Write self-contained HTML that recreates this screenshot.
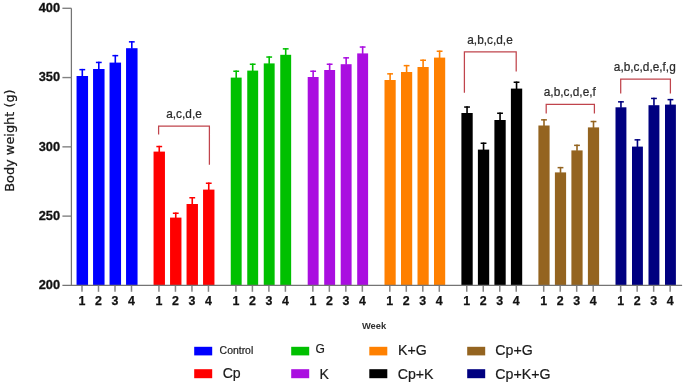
<!DOCTYPE html>
<html lang="en"><head><meta charset="utf-8"><title>Body weight chart</title>
<style>html,body{margin:0;padding:0;background:#fff;}body{width:685px;height:385px;overflow:hidden;}svg{display:block;}text{font-family:"Liberation Sans",Arial,sans-serif;}</style>
</head><body>
<svg width="685" height="385" viewBox="0 0 685 385">
<rect width="685" height="385" fill="#ffffff"/>
<g fill="#0000ff">
<rect x="76.55" y="76.00" width="11.5" height="209.40"/>
<rect x="81.50" y="68.90" width="1.6" height="7.60"/>
<rect x="79.40" y="68.90" width="5.8" height="1.5"/>
<rect x="93.05" y="69.00" width="11.5" height="216.40"/>
<rect x="98.00" y="61.70" width="1.6" height="7.80"/>
<rect x="95.90" y="61.70" width="5.8" height="1.5"/>
<rect x="109.55" y="62.60" width="11.5" height="222.80"/>
<rect x="114.50" y="54.90" width="1.6" height="8.20"/>
<rect x="112.40" y="54.90" width="5.8" height="1.5"/>
<rect x="126.05" y="48.20" width="11.5" height="237.20"/>
<rect x="131.00" y="41.10" width="1.6" height="7.60"/>
<rect x="128.90" y="41.10" width="5.8" height="1.5"/>
</g>
<g fill="#ff0000">
<rect x="153.55" y="151.60" width="11.4" height="133.80"/>
<rect x="158.45" y="145.80" width="1.6" height="6.30"/>
<rect x="156.35" y="145.80" width="5.8" height="1.5"/>
<rect x="170.05" y="217.60" width="11.4" height="67.80"/>
<rect x="174.95" y="212.50" width="1.6" height="5.60"/>
<rect x="172.85" y="212.50" width="5.8" height="1.5"/>
<rect x="186.55" y="204.00" width="11.4" height="81.40"/>
<rect x="191.45" y="197.00" width="1.6" height="7.50"/>
<rect x="189.35" y="197.00" width="5.8" height="1.5"/>
<rect x="203.05" y="189.60" width="11.4" height="95.80"/>
<rect x="207.95" y="182.50" width="1.6" height="7.60"/>
<rect x="205.85" y="182.50" width="5.8" height="1.5"/>
</g>
<g fill="#00c000">
<rect x="230.75" y="77.60" width="10.9" height="207.80"/>
<rect x="235.40" y="70.50" width="1.6" height="7.60"/>
<rect x="233.30" y="70.50" width="5.8" height="1.5"/>
<rect x="247.25" y="70.60" width="10.9" height="214.80"/>
<rect x="251.90" y="63.50" width="1.6" height="7.60"/>
<rect x="249.80" y="63.50" width="5.8" height="1.5"/>
<rect x="263.75" y="63.40" width="10.9" height="222.00"/>
<rect x="268.40" y="56.30" width="1.6" height="7.60"/>
<rect x="266.30" y="56.30" width="5.8" height="1.5"/>
<rect x="280.25" y="54.80" width="10.9" height="230.60"/>
<rect x="284.90" y="48.10" width="1.6" height="7.20"/>
<rect x="282.80" y="48.10" width="5.8" height="1.5"/>
</g>
<g fill="#aa0ee0">
<rect x="307.70" y="77.00" width="10.9" height="208.40"/>
<rect x="312.35" y="70.50" width="1.6" height="7.00"/>
<rect x="310.25" y="70.50" width="5.8" height="1.5"/>
<rect x="324.20" y="70.00" width="10.9" height="215.40"/>
<rect x="328.85" y="63.50" width="1.6" height="7.00"/>
<rect x="326.75" y="63.50" width="5.8" height="1.5"/>
<rect x="340.70" y="64.20" width="10.9" height="221.20"/>
<rect x="345.35" y="57.10" width="1.6" height="7.60"/>
<rect x="343.25" y="57.10" width="5.8" height="1.5"/>
<rect x="357.20" y="53.40" width="10.9" height="232.00"/>
<rect x="361.85" y="46.30" width="1.6" height="7.60"/>
<rect x="359.75" y="46.30" width="5.8" height="1.5"/>
</g>
<g fill="#ff8000">
<rect x="384.50" y="80.00" width="11.2" height="205.40"/>
<rect x="389.30" y="73.10" width="1.6" height="7.40"/>
<rect x="387.20" y="73.10" width="5.8" height="1.5"/>
<rect x="401.00" y="72.00" width="11.2" height="213.40"/>
<rect x="405.80" y="64.90" width="1.6" height="7.60"/>
<rect x="403.70" y="64.90" width="5.8" height="1.5"/>
<rect x="417.50" y="67.00" width="11.2" height="218.40"/>
<rect x="422.30" y="59.50" width="1.6" height="8.00"/>
<rect x="420.20" y="59.50" width="5.8" height="1.5"/>
<rect x="434.00" y="57.60" width="11.2" height="227.80"/>
<rect x="438.80" y="50.50" width="1.6" height="7.60"/>
<rect x="436.70" y="50.50" width="5.8" height="1.5"/>
</g>
<g fill="#000000">
<rect x="461.40" y="113.00" width="11.3" height="172.40"/>
<rect x="466.25" y="106.30" width="1.6" height="7.20"/>
<rect x="464.15" y="106.30" width="5.8" height="1.5"/>
<rect x="477.90" y="149.60" width="11.3" height="135.80"/>
<rect x="482.75" y="142.50" width="1.6" height="7.60"/>
<rect x="480.65" y="142.50" width="5.8" height="1.5"/>
<rect x="494.40" y="120.00" width="11.3" height="165.40"/>
<rect x="499.25" y="112.50" width="1.6" height="8.00"/>
<rect x="497.15" y="112.50" width="5.8" height="1.5"/>
<rect x="510.90" y="88.60" width="11.3" height="196.80"/>
<rect x="515.75" y="81.50" width="1.6" height="7.60"/>
<rect x="513.65" y="81.50" width="5.8" height="1.5"/>
</g>
<g fill="#946420">
<rect x="538.40" y="125.50" width="11.2" height="159.90"/>
<rect x="543.20" y="119.10" width="1.6" height="6.90"/>
<rect x="541.10" y="119.10" width="5.8" height="1.5"/>
<rect x="554.90" y="172.40" width="11.2" height="113.00"/>
<rect x="559.70" y="166.90" width="1.6" height="6.00"/>
<rect x="557.60" y="166.90" width="5.8" height="1.5"/>
<rect x="571.40" y="150.40" width="11.2" height="135.00"/>
<rect x="576.20" y="144.60" width="1.6" height="6.30"/>
<rect x="574.10" y="144.60" width="5.8" height="1.5"/>
<rect x="587.90" y="127.40" width="11.2" height="158.00"/>
<rect x="592.70" y="120.80" width="1.6" height="7.10"/>
<rect x="590.60" y="120.80" width="5.8" height="1.5"/>
</g>
<g fill="#000080">
<rect x="615.50" y="107.30" width="10.9" height="178.10"/>
<rect x="620.15" y="101.10" width="1.6" height="6.70"/>
<rect x="618.05" y="101.10" width="5.8" height="1.5"/>
<rect x="632.00" y="146.60" width="10.9" height="138.80"/>
<rect x="636.65" y="139.10" width="1.6" height="8.00"/>
<rect x="634.55" y="139.10" width="5.8" height="1.5"/>
<rect x="648.50" y="105.20" width="10.9" height="180.20"/>
<rect x="653.15" y="97.70" width="1.6" height="8.00"/>
<rect x="651.05" y="97.70" width="5.8" height="1.5"/>
<rect x="665.00" y="104.60" width="10.9" height="180.80"/>
<rect x="669.65" y="98.90" width="1.6" height="6.20"/>
<rect x="667.55" y="98.90" width="5.8" height="1.5"/>
</g>
<g stroke="#747474" stroke-width="1.25" fill="none">
<line x1="71.4" y1="8.3" x2="71.4" y2="285.4"/>
<line x1="62.4" y1="285.4" x2="682.1" y2="285.4"/>
</g>
<g stroke="#828282" stroke-width="1.4" fill="none">
<line x1="62.4" y1="8.30" x2="71.4" y2="8.30"/>
<line x1="62.4" y1="77.57" x2="71.4" y2="77.57"/>
<line x1="62.4" y1="146.85" x2="71.4" y2="146.85"/>
<line x1="62.4" y1="216.12" x2="71.4" y2="216.12"/>
</g>
<g stroke="#858585" stroke-width="1.5" fill="none">
<line x1="82.00" y1="285.9" x2="82.00" y2="291.8"/>
<line x1="98.50" y1="285.9" x2="98.50" y2="291.8"/>
<line x1="115.00" y1="285.9" x2="115.00" y2="291.8"/>
<line x1="131.50" y1="285.9" x2="131.50" y2="291.8"/>
<line x1="158.95" y1="285.9" x2="158.95" y2="291.8"/>
<line x1="175.45" y1="285.9" x2="175.45" y2="291.8"/>
<line x1="191.95" y1="285.9" x2="191.95" y2="291.8"/>
<line x1="208.45" y1="285.9" x2="208.45" y2="291.8"/>
<line x1="235.90" y1="285.9" x2="235.90" y2="291.8"/>
<line x1="252.40" y1="285.9" x2="252.40" y2="291.8"/>
<line x1="268.90" y1="285.9" x2="268.90" y2="291.8"/>
<line x1="285.40" y1="285.9" x2="285.40" y2="291.8"/>
<line x1="312.85" y1="285.9" x2="312.85" y2="291.8"/>
<line x1="329.35" y1="285.9" x2="329.35" y2="291.8"/>
<line x1="345.85" y1="285.9" x2="345.85" y2="291.8"/>
<line x1="362.35" y1="285.9" x2="362.35" y2="291.8"/>
<line x1="389.80" y1="285.9" x2="389.80" y2="291.8"/>
<line x1="406.30" y1="285.9" x2="406.30" y2="291.8"/>
<line x1="422.80" y1="285.9" x2="422.80" y2="291.8"/>
<line x1="439.30" y1="285.9" x2="439.30" y2="291.8"/>
<line x1="466.75" y1="285.9" x2="466.75" y2="291.8"/>
<line x1="483.25" y1="285.9" x2="483.25" y2="291.8"/>
<line x1="499.75" y1="285.9" x2="499.75" y2="291.8"/>
<line x1="516.25" y1="285.9" x2="516.25" y2="291.8"/>
<line x1="543.70" y1="285.9" x2="543.70" y2="291.8"/>
<line x1="560.20" y1="285.9" x2="560.20" y2="291.8"/>
<line x1="576.70" y1="285.9" x2="576.70" y2="291.8"/>
<line x1="593.20" y1="285.9" x2="593.20" y2="291.8"/>
<line x1="620.65" y1="285.9" x2="620.65" y2="291.8"/>
<line x1="637.15" y1="285.9" x2="637.15" y2="291.8"/>
<line x1="653.65" y1="285.9" x2="653.65" y2="291.8"/>
<line x1="670.15" y1="285.9" x2="670.15" y2="291.8"/>
</g>
<g font-size="12.8" font-weight="bold" fill="#111111" stroke="#111111" stroke-width="0.3" text-anchor="end">
<text x="60.1" y="12.20">400</text>
<text x="60.1" y="81.47">350</text>
<text x="60.1" y="150.75">300</text>
<text x="60.1" y="220.03">250</text>
<text x="60.1" y="289.30">200</text>
</g>
<g font-size="12.4" font-weight="bold" fill="#111111" stroke="#111111" stroke-width="0.25" text-anchor="middle">
<text x="82.00" y="305.0">1</text>
<text x="98.50" y="305.0">2</text>
<text x="115.00" y="305.0">3</text>
<text x="131.50" y="305.0">4</text>
<text x="158.95" y="305.0">1</text>
<text x="175.45" y="305.0">2</text>
<text x="191.95" y="305.0">3</text>
<text x="208.45" y="305.0">4</text>
<text x="235.90" y="305.0">1</text>
<text x="252.40" y="305.0">2</text>
<text x="268.90" y="305.0">3</text>
<text x="285.40" y="305.0">4</text>
<text x="312.85" y="305.0">1</text>
<text x="329.35" y="305.0">2</text>
<text x="345.85" y="305.0">3</text>
<text x="362.35" y="305.0">4</text>
<text x="389.80" y="305.0">1</text>
<text x="406.30" y="305.0">2</text>
<text x="422.80" y="305.0">3</text>
<text x="439.30" y="305.0">4</text>
<text x="466.75" y="305.0">1</text>
<text x="483.25" y="305.0">2</text>
<text x="499.75" y="305.0">3</text>
<text x="516.25" y="305.0">4</text>
<text x="543.70" y="305.0">1</text>
<text x="560.20" y="305.0">2</text>
<text x="576.70" y="305.0">3</text>
<text x="593.20" y="305.0">4</text>
<text x="620.65" y="305.0">1</text>
<text x="637.15" y="305.0">2</text>
<text x="653.65" y="305.0">3</text>
<text x="670.15" y="305.0">4</text>
</g>
<g stroke="#c0444c" stroke-width="1.25" fill="none">
<polyline points="158.6,134.5 158.6,126 209.4,126 209.4,164.7"/>
<polyline points="464.4,92.7 464.4,51.8 516.2,51.8 516.2,71.5"/>
<polyline points="546.2,113.6 546.2,104.4 594.4,104.4 594.4,113.6"/>
<polyline points="620.7,93.5 620.7,79 670.4,79 670.4,93.5"/>
</g>
<g font-size="11.85" fill="#2b2b2b" stroke="#2b2b2b" stroke-width="0.22" text-anchor="middle">
<text x="184" y="118">a,c,d,e</text>
<text x="490" y="44">a,b,c,d,e</text>
<text x="569.8" y="96.4">a,b,c,d,e,f</text>
<text x="644.8" y="70.6">a,b,c,d,e,f,g</text>
</g>
<text transform="translate(13.9,191.8) rotate(-90)" font-size="12.9" fill="#1a1a1a" stroke="#1a1a1a" stroke-width="0.25" style="font-family:'DejaVu Sans',sans-serif">Body weight (g)</text>
<text x="374" y="329.1" font-size="9.35" font-weight="bold" fill="#303030" text-anchor="middle">Week</text>
<rect x="194.2" y="346.8" width="18" height="8.6" fill="#0000ff"/>
<rect x="194.2" y="369.2" width="18" height="9" fill="#ff0000"/>
<rect x="291.2" y="346.8" width="18" height="8.6" fill="#00c000"/>
<rect x="291.2" y="369.2" width="18" height="9" fill="#aa0ee0"/>
<rect x="369.3" y="346.8" width="18" height="8.6" fill="#ff8000"/>
<rect x="369.3" y="369.2" width="18" height="9" fill="#000000"/>
<rect x="467.2" y="346.8" width="18" height="8.6" fill="#946420"/>
<rect x="467.2" y="369.2" width="18" height="9" fill="#000080"/>
<g fill="#1a1a1a" stroke="#1a1a1a" stroke-width="0.2">
<text x="219.6" y="353.6" font-size="10.45">Control</text>
<text x="222.7" y="378.3" font-size="14.1">Cp</text>
<text x="315.5" y="353.2" font-size="12">G</text>
<text x="319.4" y="378.7" font-size="14.1">K</text>
<text x="398.1" y="355.3" font-size="14.2">K+G</text>
<text x="397.7" y="378.7" font-size="14.2">Cp+K</text>
<text x="495.3" y="355.3" font-size="14.2">Cp+G</text>
<text x="495.3" y="378.7" font-size="14.2">Cp+K+G</text>
</g>
</svg>
</body></html>
